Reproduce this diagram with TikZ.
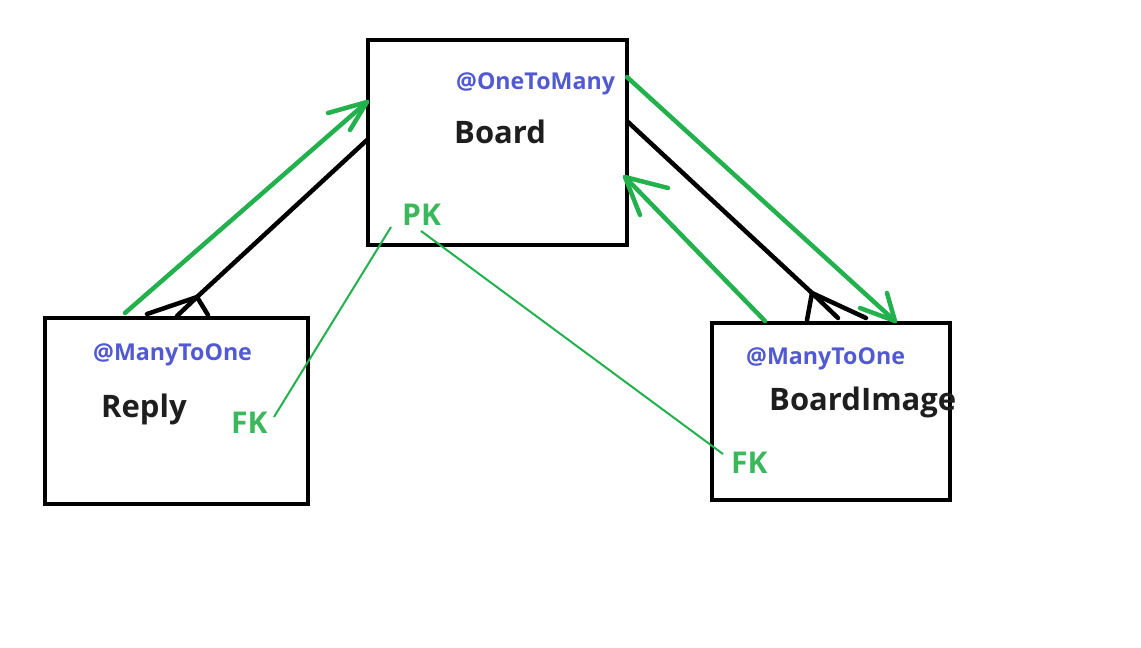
\documentclass[tikz,border=0pt]{standalone}
\usepackage{fontspec}
\setmainfont{Open Sans}
\usetikzlibrary{calc}
\definecolor{annblue}{HTML}{5159D3}
\definecolor{txtgreen}{HTML}{3CB85C}
\definecolor{pgreen}{HTML}{22B14C}
\definecolor{txtblack}{HTML}{1E1E1E}
\begin{document}
\begin{tikzpicture}[x=1pt,y=-1pt,
  box/.style={draw=black,line width=4.5pt,minimum width=#1,inner sep=0pt},
  annot/.style={anchor=base west,inner sep=0pt,text=annblue,font=\fontsize{23.2}{25}\selectfont\bfseries},
  ename/.style={anchor=base west,inner sep=0pt,text=txtblack,font=\fontsize{31}{33}\selectfont\bfseries},
  key/.style={anchor=base west,inner sep=0pt,text=txtgreen,font=\fontsize{30}{32}\selectfont\bfseries},
  rel/.style={draw=black,line width=4.5pt,line cap=round,line join=round},
  nav/.style={draw=pgreen,line width=4.5pt,line cap=round,line join=round},
  fkline/.style={draw=pgreen,line width=2pt}]
\useasboundingbox (0,0) rectangle (1141,648);
\fill[white] (0,0) rectangle (1141,648);
% boxes
\node[box=259pt,minimum height=205pt] (board) at (497.5,142.5) {};
\node[box=263pt,minimum height=186pt] (reply) at (176.5,411) {};
\node[box=238pt,minimum height=177pt] (bimg) at (831,411.5) {};
% texts
\node[annot] (oneToMany) at (456,89) {@OneToMany};
\node[ename] (boardName) at (454,143) {Board};
\node[key] (pk) at (402,225) {PK};
\node[annot] (replyAnn) at (93,360) {@ManyToOne};
\node[ename] (replyName) at (101,417) {Reply};
\node[key] (replyFk) at (231,433) {FK};
\node[annot] (bimgAnn) at (746,364) {@ManyToOne};
\node[ename] (bimgName) at (769,410) {BoardImage};
\node[key] (bimgFk) at (731,473) {FK};
% connector end points
\coordinate (rNavS) at (125,313);
\coordinate (rNavT) at (367,102);
\coordinate (rNavB1) at (328,113);
\coordinate (rNavB2) at (350,130);
\coordinate (rRelS) at (367,140);
\coordinate (rRelF) at (197,297);
\coordinate (rCf1) at (147,314);
\coordinate (rCf2) at (177,316);
\coordinate (rCf3) at (208,315);
\coordinate (bNavS) at (627,77);
\coordinate (bNavT) at (895,321);
\coordinate (bNavB1) at (860,308);
\coordinate (bNavB2) at (887,293);
\coordinate (bRelS) at (628,122);
\coordinate (bRelF) at (812,293);
\coordinate (bCf1) at (807,320);
\coordinate (bCf2) at (838,318);
\coordinate (bCf3) at (866,318);
\coordinate (iNavS) at (765,321);
\coordinate (iNavT) at (625,177);
\coordinate (iNavB1) at (668,188);
\coordinate (iNavB2) at (640,215);
\coordinate (pkA) at (391,227);
\coordinate (pkB) at (421,231);
\coordinate (rFkE) at (274,417);
\coordinate (iFkE) at (723,454);
% Reply -- Board relation
\draw[rel] (rRelS) -- (rRelF);
\draw[rel] (rCf1) -- (rRelF) -- (rCf3);
\draw[rel] (rRelF) -- (rCf2);
\draw[nav] (rNavS) -- (rNavT);
\draw[nav] (rNavB1) -- (rNavT) -- (rNavB2);
% Board -- BoardImage relation
\draw[rel] (bRelS) -- (bRelF);
\draw[rel] (bCf1) -- (bRelF) -- (bCf3);
\draw[rel] (bRelF) -- (bCf2);
\draw[nav] (bNavS) -- (bNavT);
\draw[nav] (bNavB1) -- (bNavT) -- (bNavB2);
\draw[nav] (iNavS) -- (iNavT);
\draw[nav] (iNavB1) -- (iNavT) -- (iNavB2);
% PK -- FK
\draw[fkline] (pkA) -- (rFkE);
\draw[fkline] (pkB) -- (iFkE);
\end{tikzpicture}
\end{document}
